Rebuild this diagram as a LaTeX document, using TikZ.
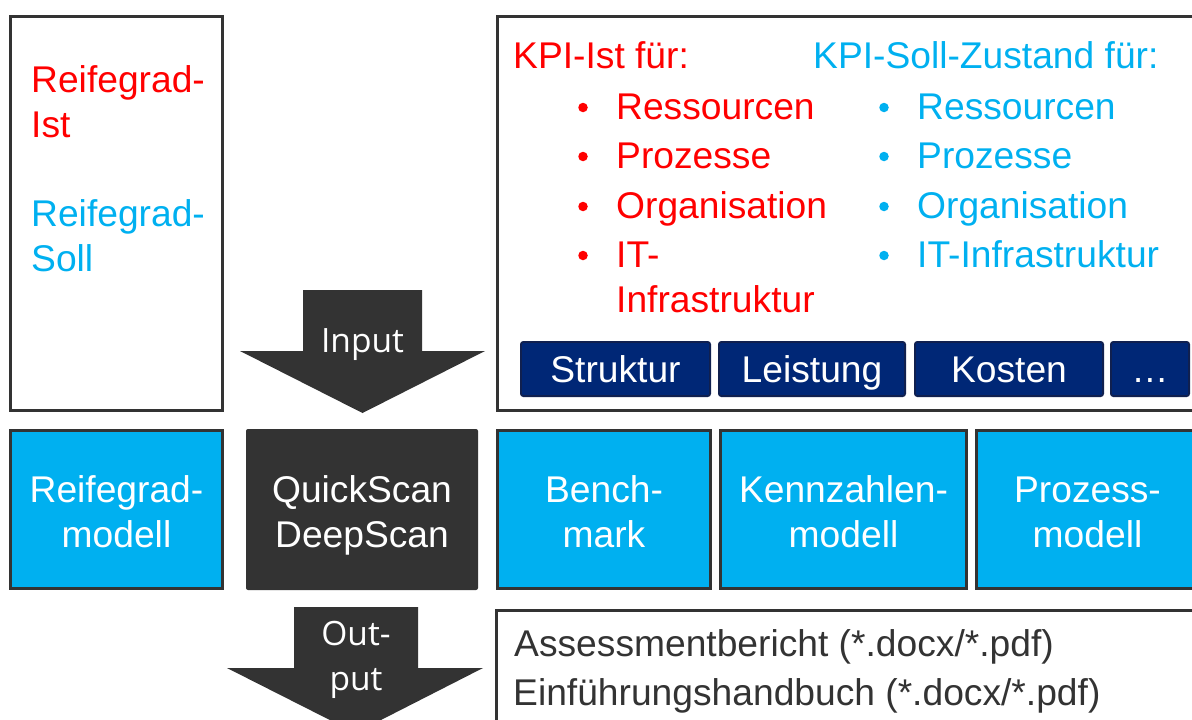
\documentclass[tikz,border=0pt]{standalone}
\usepackage{fontspec}
\setmainfont{Liberation Sans}
\newfontfamily\arrowfont{Open Sans}
\usetikzlibrary{fit}

\definecolor{ink}{HTML}{333333}
\definecolor{cyanfill}{HTML}{00B0F0}
\definecolor{navy}{HTML}{002776}
\definecolor{navyline}{HTML}{10204F}
\definecolor{kpired}{HTML}{FF0000}

\begin{document}
\begin{tikzpicture}[x=1pt,y=-1pt,
  lbl/.style={font=\fontsize{37.2}{45}\selectfont, inner sep=0pt},
  arrowlbl/.style={font=\arrowfont\fontsize{33.5}{45}\selectfont, inner sep=0pt, text=white},
  frame/.style={draw=ink, line width=3.2pt},
  model/.style={frame, fill=cyanfill, inner sep=0pt},
  scanbox/.style={fill=ink, rounded corners=2pt, inner sep=0pt},
  tag/.style={draw=navyline, line width=1.8pt, fill=navy, rounded corners=2.5pt, inner sep=0pt},
  dot/.style={circle, inner sep=0pt, minimum size=9.5pt},
]
\useasboundingbox (0,0) rectangle (1192,720);
\clip (0,0) rectangle (1192,720);

% ---------- upper frames ----------
\node[frame, inner sep=0pt, fit={(10.6,16.6) (222.4,410.4)}] (reife) {};
\node[frame, inner sep=0pt, fit={(497.6,16.6) (1215,410.4)}] (kpi) {};

% maturity levels
\node[lbl, kpired, anchor=north west, align=left] (reifeist) at (31,60.5) {\strut Reifegrad-\\Ist};
\node[lbl, cyanfill, anchor=north west, align=left] (reifesoll) at (31,194.5) {\strut Reifegrad-\\Soll};

% KPI actual state
\node[lbl, kpired, anchor=base west] (isthead) at (513,68) {KPI-Ist für:};
\foreach \y in {119,168,218,267} \node[dot, fill=kpired] at (583,\y-11.5) {};
\node[lbl, kpired, anchor=base west] (ist1) at (616,119) {Ressourcen};
\node[lbl, kpired, anchor=base west] (ist2) at (616,168) {Prozesse};
\node[lbl, kpired, anchor=base west] (ist3) at (616,218) {Organisation};
\node[lbl, kpired, anchor=north west, align=left] (ist4) at (616,235.5) {\strut IT-\\Infrastruktur};

% KPI target state
\node[lbl, cyanfill, anchor=base west] (sollhead) at (813,68) {KPI-Soll-Zustand für:};
\foreach \y in {119,168,218,267} \node[dot, fill=cyanfill] at (884,\y-11.5) {};
\node[lbl, cyanfill, anchor=base west] (soll1) at (917,119) {Ressourcen};
\node[lbl, cyanfill, anchor=base west] (soll2) at (917,168) {Prozesse};
\node[lbl, cyanfill, anchor=base west] (soll3) at (917,218) {Organisation};
\node[lbl, cyanfill, anchor=base west] (soll4) at (917,267) {IT-Infrastruktur};

% KPI categories
\node[tag, fit={(520.9,341.9) (710.1,396.1)}] (struktur) {};
\node[tag, fit={(718.9,341.9) (905.1,396.1)}] (leistung) {};
\node[tag, fit={(914.9,341.9) (1103.1,396.1)}] (kosten) {};
\node[tag, fit={(1110.9,341.9) (1189.1,396.1)}] (mehr) {};
\node[lbl, white, anchor=base] at (struktur.center |- 0,382) {Struktur};
\node[lbl, white, anchor=base] at (leistung.center |- 0,382) {Leistung};
\node[lbl, white, anchor=base] at (kosten.center |- 0,382) {Kosten};
\node[lbl, white, anchor=base] at (mehr.center |- 0,382) {…};

% ---------- input arrow ----------
\fill[ink] (303,290) -- (422,290) -- (422,351) -- (485,351) -- (362.5,413)
  -- (240,351) -- (303,351) -- cycle;
\node[arrowlbl, anchor=base] (input) at (362.5,352) {Input};

% ---------- model row ----------
\node[model, fit={(10.6,430.6) (222.4,588.4)}] (rgm) {};
\node[scanbox, fit={(246,429) (478,590)}] (scan) {};
\node[model, fit={(497.6,430.6) (710.4,588.4)}] (bench) {};
\node[model, fit={(720.6,430.6) (966.4,588.4)}] (kenn) {};
\node[model, fit={(976.6,430.6) (1215,588.4)}] (proz) {};

\node[lbl, white, anchor=north, align=center] at (rgm.center |- 0,470.5) {\strut Reifegrad-\\modell};
\node[lbl, white, anchor=north, align=center] at (scan.center |- 0,470.5) {\strut QuickScan\\DeepScan};
\node[lbl, white, anchor=north, align=center] at (bench.center |- 0,470.5) {\strut Bench-\\mark};
\node[lbl, white, anchor=north, align=center] at (kenn.center |- 0,470.5) {\strut Kennzahlen-\\modell};
\node[lbl, white, anchor=north, align=center] at (1087.5,470.5) {\strut Prozess-\\modell};

% ---------- output arrow ----------
\fill[ink] (294,607) -- (418,607) -- (418,668) -- (483,668) -- (355.5,733)
  -- (227,668) -- (294,668) -- cycle;
\node[arrowlbl, anchor=north, align=center] (output) at (356,613.5) {\strut Out-\\put};

% ---------- deliverables ----------
\node[frame, inner sep=0pt, fit={(496.6,610.6) (1215,760)}] (docs) {};
\node[lbl, text=ink, anchor=base west] (doc1) at (514,656) {Assessmentbericht (*.docx/*.pdf)};
\node[lbl, text=ink, anchor=base west] (doc2) at (513,705) {Einführungshandbuch (*.docx/*.pdf)};
\end{tikzpicture}
\end{document}
